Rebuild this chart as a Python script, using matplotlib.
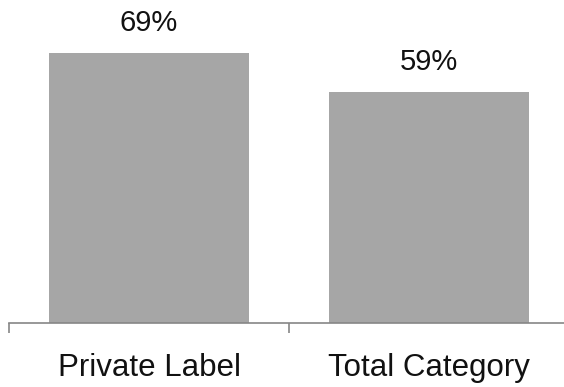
import matplotlib
matplotlib.use("Agg")
import matplotlib.pyplot as plt
import numpy as np

CATEGORIES = ["Private Label", "Total Category"]
SHARES = [69, 59]  # percent
BAR_COLOR = "#a6a6a6"
AXIS_COLOR = "#868686"

plt.rcParams["font.family"] = ["Liberation Sans", "DejaVu Sans"]

fig = plt.figure(figsize=(5.64, 3.87), dpi=100)
ax = fig.add_axes([9 / 564, (387 - 322.5) / 387, 560 / 564, 0.81])

x = np.arange(len(CATEGORIES))
bars = ax.bar(x, SHARES, width=0.714, color=BAR_COLOR, zorder=2)

# value labels above the bars
for rect, val in zip(bars, SHARES):
    ax.annotate(f"{val}%", (rect.get_x() + rect.get_width() / 2, rect.get_height()),
                xytext=(0, 16), textcoords="offset pixels",
                ha="center", va="bottom", fontsize=21, color="#111111")

ax.set_xlim(-0.5, 1.5)
ax.set_ylim(0, 69 * 0.81 * 387 / 269.8)

# category labels, tick marks sit between categories
ax.set_xticks(x, labels=CATEGORIES, fontsize=22.5)
ax.set_xticks([-0.5, 0.5, 1.5], minor=True)
ax.tick_params(axis="x", which="major", length=0, pad=22, labelcolor="#111111")
ax.tick_params(axis="x", which="minor", length=7, width=1.2, color=AXIS_COLOR)
ax.set_yticks([])

for side in ["top", "right", "left"]:
    ax.spines[side].set_visible(False)
ax.spines["bottom"].set_color(AXIS_COLOR)
ax.spines["bottom"].set_linewidth(1.2)

fig.savefig("out.png", dpi=100)
